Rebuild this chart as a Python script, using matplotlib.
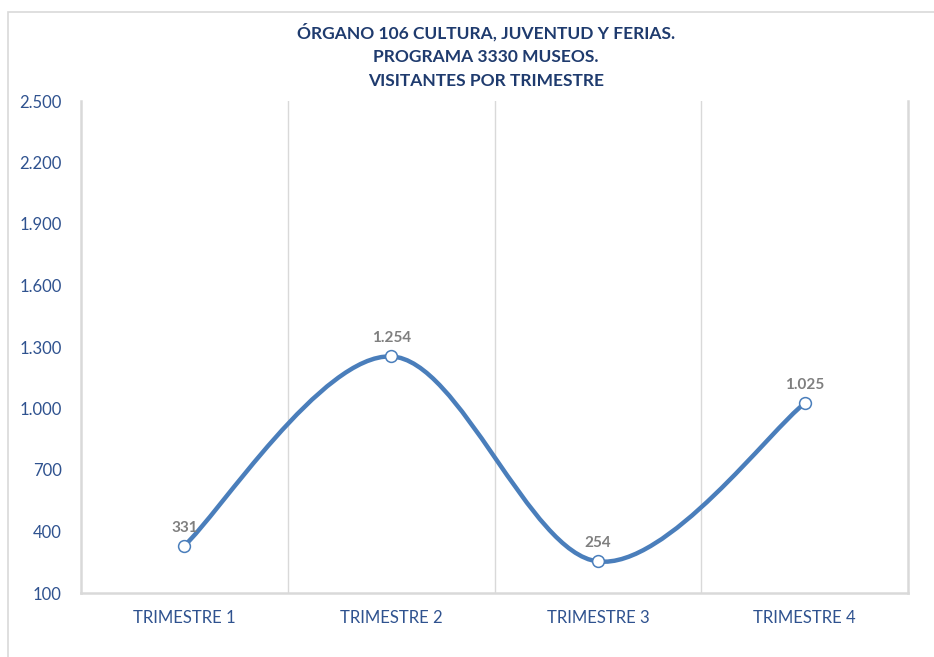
import numpy as np
import matplotlib.pyplot as plt
from matplotlib.path import Path
from matplotlib.patches import PathPatch, Rectangle

categories = ["TRIMESTRE 1", "TRIMESTRE 2", "TRIMESTRE 3", "TRIMESTRE 4"]
visitors = [331, 1254, 254, 1025]
value_labels = ["331", "1.254", "254", "1.025"]
y_ticks = [100, 400, 700, 1000, 1300, 1600, 1900, 2200, 2500]
y_tick_labels = ["100", "400", "700", "1.000", "1.300", "1.600", "1.900", "2.200", "2.500"]
title = "ÓRGANO 106 CULTURA, JUVENTUD Y FERIAS.\nPROGRAMA 3330 MUSEOS.\nVISITANTES POR TRIMESTRE"

LINE_COLOR = "#4A7EBB"
TEXT_BLUE = "#2F528F"
TITLE_BLUE = "#1F3B6E"
GRID = "#D9D9D9"

plt.rcParams["font.family"] = ["Lato", "DejaVu Sans"]


def smooth_path(x, y):
    # Excel-style smoothed line: cubic Bezier with Catmull-Rom tangents
    pts = np.column_stack([x, y]).astype(float)
    n = len(pts)
    verts = [pts[0]]
    codes = [Path.MOVETO]
    for i in range(n - 1):
        p_prev = pts[max(i - 1, 0)]
        p0 = pts[i]
        p1 = pts[i + 1]
        p_next = pts[min(i + 2, n - 1)]
        c1 = p0 + (p1 - p_prev) / 6.0
        c2 = p1 - (p_next - p0) / 6.0
        verts += [c1, c2, p1]
        codes += [Path.CURVE4] * 3
    return Path(verts, codes)


fig = plt.figure(figsize=(9.34, 6.57), dpi=100)
ax = fig.add_axes([81 / 934, 1 - 593 / 657, 827 / 934, 492 / 657])

# outer chart border
fig.patches.append(Rectangle((8 / 934, -0.1), 1.2, (1 - 12 / 657) + 0.1,
                             transform=fig.transFigure, fill=False,
                             edgecolor=GRID, linewidth=1.2))

x = np.arange(len(categories))
ax.add_patch(PathPatch(smooth_path(x, visitors), facecolor="none",
                       edgecolor=LINE_COLOR, linewidth=3.2, capstyle="round",
                       zorder=3))
ax.plot(x, visitors, linestyle="none", marker="o", markersize=8.5,
        markerfacecolor="white", markeredgecolor=LINE_COLOR,
        markeredgewidth=1.1, zorder=4)

for xi, v, lab in zip(x, visitors, value_labels):
    ax.annotate(lab, (xi, v), xytext=(0, 8), textcoords="offset points",
                ha="center", va="bottom", fontsize=11, fontweight="bold",
                color="#7F7F7F")

ax.set_xlim(-0.5, len(categories) - 0.5)
ax.set_ylim(100, 2500)
ax.set_yticks(y_ticks)
ax.set_yticklabels(y_tick_labels)
ax.set_xticks(x)
ax.set_xticklabels(categories)
ax.tick_params(axis="both", length=0, labelsize=12, labelcolor=TEXT_BLUE)
ax.tick_params(axis="y", pad=14)
ax.tick_params(axis="x", pad=12)

for xb in np.arange(0.5, len(categories) - 0.5, 1.0):
    ax.axvline(xb, color=GRID, linewidth=1, zorder=1)

for side in ["left", "bottom", "right"]:
    ax.spines[side].set_color(GRID)
    ax.spines[side].set_linewidth(1.8)
ax.spines["top"].set_visible(False)

fig.text(0.52, 1 - 56 / 657, title, ha="center", va="center",
         fontsize=12.5, fontweight="bold", color=TITLE_BLUE, linespacing=1.58)

fig.savefig("out.png", dpi=100)
